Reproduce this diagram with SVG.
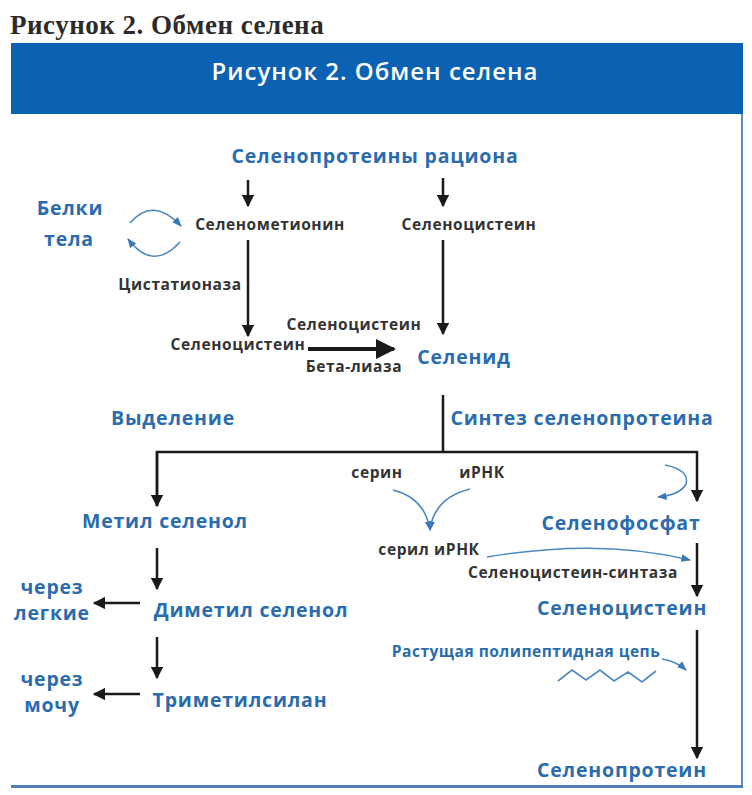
<svg xmlns="http://www.w3.org/2000/svg" width="752" height="795" viewBox="0 0 752 795">
<defs>
<style>
.b{font-family:"Open Sans","Liberation Sans",sans-serif;font-weight:700;fill:#2a6cad;font-size:19.5px;letter-spacing:0.8px}
.d{font-family:"Open Sans","Liberation Sans",sans-serif;font-weight:700;fill:#333;font-size:15.5px;letter-spacing:0.6px}
.bs{font-family:"Open Sans","Liberation Sans",sans-serif;font-weight:700;fill:#2a6cad;font-size:15.5px;letter-spacing:0.5px}
.k{stroke:#1a1a1a;stroke-width:2.5;fill:none}
.bl{stroke:#4f88c0;stroke-width:1.6;fill:none}
</style>
<marker id="ak" viewBox="0 0 10 10" refX="9" refY="5" markerWidth="5" markerHeight="5" orient="auto" markerUnits="strokeWidth"><path d="M0,0L10,5L0,10z" fill="#1a1a1a"/></marker>
<marker id="ab" viewBox="0 0 10 10" refX="9" refY="5" markerWidth="6" markerHeight="6" orient="auto" markerUnits="strokeWidth"><path d="M0,1L10,5L0,9z" fill="#3a78b8"/></marker>
</defs>
<rect width="752" height="795" fill="#fff"/>
<text x="10" y="34" font-family="Liberation Serif,serif" font-weight="700" font-size="27" letter-spacing="0.5" fill="#2b2b2b">Рисунок 2. Обмен селена</text>
<g id="frame">
<rect x="11" y="43" width="732" height="71" fill="#0b62b3"/>
<text x="375" y="80" text-anchor="middle" font-family="Open Sans,Liberation Sans,sans-serif" font-weight="600" font-size="24" letter-spacing="1" fill="#fff">Рисунок 2. Обмен селена</text>
<line x1="742" y1="114" x2="742" y2="788" stroke="#5b8fbf" stroke-width="2"/>
<line x1="11" y1="786.5" x2="743" y2="786.5" stroke="#4f7fb0" stroke-width="3"/>
</g>
<g id="connectors">
<line class="k" x1="248" y1="180" x2="248" y2="206" marker-end="url(#ak)"/>
<line class="k" x1="443" y1="178" x2="443" y2="206" marker-end="url(#ak)"/>
<line class="k" x1="248" y1="240" x2="248" y2="336" marker-end="url(#ak)"/>
<line class="k" x1="443" y1="240" x2="443" y2="334" marker-end="url(#ak)"/>
<line x1="308" y1="349" x2="394" y2="349" stroke="#1a1a1a" stroke-width="4" marker-end="url(#ak)"/>
<path class="bl" d="M130,223 Q153,196 181,226" marker-end="url(#ab)"/>
<path class="bl" d="M180,242 Q153,272 128,239" marker-end="url(#ab)"/>
<line class="k" x1="443" y1="395" x2="443" y2="452"/>
<polyline class="k" points="157,506 157,452 697,452 697,501" marker-end="url(#ak)"/>
<path d="M157,452 L157,506" class="k" marker-end="url(#ak)"/>
<path class="bl" d="M393,490 Q425,498 430,530" marker-end="url(#ab)"/>
<path class="bl" d="M470,489 Q434,498 430,530" marker-end="url(#ab)"/>
<path class="bl" d="M665,465 Q690,470 686,484 Q680,495 658,497" marker-end="url(#ab)"/>
<path class="bl" d="M487,557 Q600,538 690,560" marker-end="url(#ab)"/>
<line class="k" x1="697" y1="543" x2="697" y2="596" marker-end="url(#ak)"/>
<line class="k" x1="697" y1="630" x2="697" y2="758" marker-end="url(#ak)"/>
<path class="bl" d="M662,659 Q676,661 686,670" marker-end="url(#ab)"/>
<polyline class="bl" points="558,681 572,670 586,680 600,670 614,681 628,672 642,682 656,671"/>
<line class="k" x1="157" y1="548" x2="157" y2="589" marker-end="url(#ak)"/>
<line class="k" x1="157" y1="637" x2="157" y2="678" marker-end="url(#ak)"/>
<line class="k" x1="140" y1="603" x2="94" y2="603" marker-end="url(#ak)"/>
<line class="k" x1="140" y1="694" x2="94" y2="694" marker-end="url(#ak)"/>
</g>
<g id="n-diet"><text class="b" x="375" y="163" text-anchor="middle">Селенопротеины рациона</text></g>
<g id="n-semet"><text class="d" x="270" y="230" text-anchor="middle">Селенометионин</text></g>
<g id="n-secys1"><text class="d" x="469" y="230" text-anchor="middle">Селеноцистеин</text></g>
<g id="n-body"><text class="b" x="70" y="215" text-anchor="middle">Белки</text><text class="b" x="69" y="246" text-anchor="middle">тела</text></g>
<g id="n-cys"><text class="d" x="180" y="290" text-anchor="middle">Цистатионаза</text></g>
<g id="n-secys2"><text class="d" x="354" y="330" text-anchor="middle">Селеноцистеин</text></g>
<g id="n-secys3"><text class="d" x="238" y="350" text-anchor="middle">Селеноцистеин</text></g>
<g id="n-beta"><text class="d" x="354" y="372" text-anchor="middle">Бета-лиаза</text></g>
<g id="n-selenide"><text class="b" x="464" y="364" text-anchor="middle">Селенид</text></g>
<g id="n-excr"><text class="b" x="173" y="425" text-anchor="middle">Выделение</text></g>
<g id="n-synth"><text class="b" x="582" y="425" text-anchor="middle">Синтез селенопротеина</text></g>
<g id="n-ser"><text class="d" x="377" y="478" text-anchor="middle">серин</text></g>
<g id="n-mrna"><text class="d" x="482" y="478" text-anchor="middle">иРНК</text></g>
<g id="n-sermrna"><text class="d" x="429" y="555" text-anchor="middle">серил иРНК</text></g>
<g id="n-secsyn"><text class="d" x="573" y="578" text-anchor="middle">Селеноцистеин-синтаза</text></g>
<g id="n-sephos"><text class="b" x="621" y="530" text-anchor="middle">Селенофосфат</text></g>
<g id="n-secys4"><text class="b" x="622" y="615" text-anchor="middle">Селеноцистеин</text></g>
<g id="n-chain"><text class="bs" x="526" y="657" text-anchor="middle">Растущая полипептидная цепь</text></g>
<g id="n-seprot"><text class="b" x="622" y="777" text-anchor="middle">Селенопротеин</text></g>
<g id="n-methyl"><text class="b" x="165" y="528" text-anchor="middle">Метил селенол</text></g>
<g id="n-dimethyl"><text class="b" x="251" y="617" text-anchor="middle">Диметил селенол</text></g>
<g id="n-lungs"><text class="b" x="52" y="594" text-anchor="middle">через</text><text class="b" x="52" y="620" text-anchor="middle">легкие</text></g>
<g id="n-trimethyl"><text class="b" x="240" y="707" text-anchor="middle">Триметилсилан</text></g>
<g id="n-urine"><text class="b" x="52" y="686" text-anchor="middle">через</text><text class="b" x="52" y="712" text-anchor="middle">мочу</text></g>
</svg>
